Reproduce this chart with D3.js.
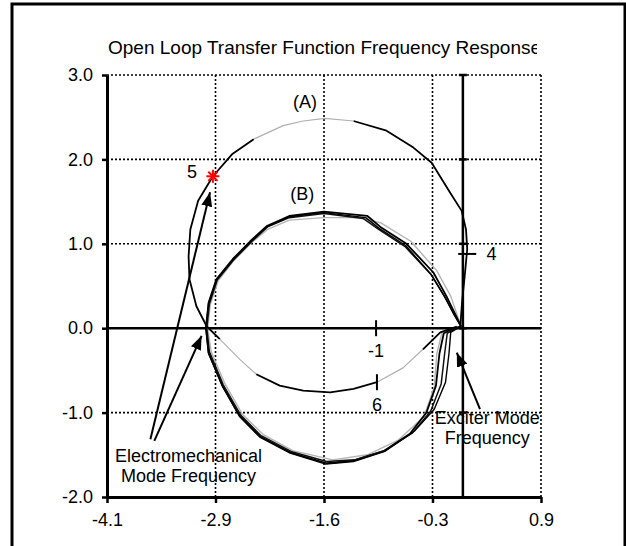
<!DOCTYPE html>
<html>
<head>
<meta charset="utf-8">
<script src="https://cdn.jsdelivr.net/npm/d3@7"></script>
<style>
  body { margin: 0; background: #fff; }
  text { font-family: "Liberation Sans", Arial, sans-serif; fill: #000; }
</style>
</head>
<body>
<div id="chart"></div>
<script>
const title = "Open Loop Transfer Function Frequency Response";

const xTicks = [-4.1, -2.85, -1.6, -0.35, 0.9];
const xTickLabels = ["-4.1", "-2.9", "-1.6", "-0.3", "0.9"];
const yTicks = [-2, -1, 0, 1, 2, 3];
const yTickLabels = ["-2.0", "-1.0", "0.0", "1.0", "2.0", "3.0"];

// curve (A), starting at the origin and going up the right side
const curveA = [
  [-0.03, 0.02], [-0.01, 0.3], [0.025, 0.66], [0.05, 0.94], [0.036, 1.17], [-0.014, 1.39],
  [-0.15, 1.61], [-0.36, 1.96], [-0.57, 2.14], [-0.88, 2.34], [-1.26, 2.455], [-1.59, 2.485],
  [-1.84, 2.455], [-2.07, 2.4], [-2.41, 2.24], [-2.66, 2.06], [-2.88, 1.8], [-3.05, 1.51],
  [-3.14, 1.17], [-3.16, 0.85], [-3.15, 0.58], [-3.07, 0.26], [-2.95, 0.02], [-2.8, -0.13],
  [-2.57, -0.37], [-2.38, -0.545], [-2.11, -0.68], [-1.84, -0.74], [-1.53, -0.76], [-1.26, -0.72],
  [-0.99, -0.64], [-0.69, -0.47], [-0.46, -0.25], [-0.26, -0.05], [-0.07, 0.02]
];

// curve (B): several nearly overlapping traces
const curveB1 = [
  [-0.02, 0.02], [-0.08, 0.15], [-0.19, 0.38], [-0.34, 0.66], [-0.65, 1.0], [-0.95, 1.2],
  [-1.1, 1.33], [-1.6, 1.38], [-2.0, 1.33], [-2.26, 1.21], [-2.45, 1.03], [-2.65, 0.82],
  [-2.84, 0.58], [-2.93, 0.3], [-2.96, 0.0], [-2.93, -0.29], [-2.77, -0.68], [-2.57, -1.04],
  [-2.34, -1.28], [-1.99, -1.47], [-1.57, -1.6], [-1.26, -1.57], [-0.92, -1.46], [-0.61, -1.25],
  [-0.42, -1.0], [-0.31, -0.68], [-0.27, -0.3], [-0.22, -0.06], [-0.1, 0.0], [-0.02, 0.02]
];
const curveB2 = [
  [-0.02, 0.02], [-0.09, 0.14], [-0.21, 0.37], [-0.37, 0.64], [-0.67, 0.97], [-0.97, 1.17],
  [-1.15, 1.3], [-1.6, 1.36], [-2.0, 1.31], [-2.25, 1.2], [-2.44, 1.02], [-2.64, 0.81],
  [-2.83, 0.57], [-2.92, 0.29], [-2.95, 0.0], [-2.92, -0.28], [-2.76, -0.67], [-2.56, -1.03],
  [-2.33, -1.27], [-1.98, -1.46], [-1.57, -1.58], [-1.25, -1.56], [-0.9, -1.45], [-0.58, -1.24],
  [-0.37, -0.98], [-0.25, -0.66], [-0.21, -0.3], [-0.18, -0.06], [-0.08, 0.0], [-0.02, 0.02]
];
const curveB3 = [
  [-0.02, 0.02], [-0.14, 0.38], [-0.3, 0.68], [-0.6, 1.03], [-0.95, 1.25], [-1.2, 1.31],
  [-1.6, 1.31], [-2.0, 1.28], [-2.25, 1.17], [-2.45, 1.0], [-2.64, 0.8], [-2.82, 0.56],
  [-2.91, 0.28], [-2.94, 0.0], [-2.9, -0.28], [-2.74, -0.66], [-2.54, -1.02], [-2.3, -1.26],
  [-1.96, -1.45], [-1.5, -1.56], [-1.1, -1.5], [-0.75, -1.33], [-0.45, -1.05], [-0.33, -0.7],
  [-0.3, -0.3], [-0.24, -0.05], [-0.1, 0.0], [-0.02, 0.02]
];
const curveB4 = [
  [-0.02, 0.02], [-0.1, 0.16], [-0.2, 0.36], [-0.36, 0.63], [-0.66, 0.98], [-0.96, 1.18],
  [-1.12, 1.31], [-1.6, 1.37], [-2.0, 1.32], [-2.26, 1.2], [-2.45, 1.02], [-2.65, 0.81],
  [-2.84, 0.57], [-2.93, 0.29], [-2.96, 0.0], [-2.93, -0.3], [-2.77, -0.69], [-2.57, -1.05],
  [-2.34, -1.29], [-1.99, -1.48], [-1.58, -1.61], [-1.26, -1.58], [-0.9, -1.46], [-0.56, -1.22],
  [-0.33, -0.96], [-0.2, -0.64], [-0.16, -0.3], [-0.14, -0.05], [-0.06, 0.0], [-0.02, 0.02]
];

const star5 = [-2.88, 1.8];

const markTicks = [
  { label: "4", at: [0.05, 0.88], dir: "h", text: [0.33, 0.88] },
  { label: "-1", at: [-1.0, 0.0], dir: "v", text: [-1.0, -0.27] },
  { label: "6", at: [-0.99, -0.64], dir: "v", text: [-0.99, -0.9] },
  { label: "5", at: null, dir: null, text: [-3.12, 1.86] }
];

const notes = [
  { lines: ["(A)"], at: [-1.82, 2.68] },
  { lines: ["(B)"], at: [-1.85, 1.6] },
  { lines: ["Electromechanical", "Mode Frequency"], at: [-3.16, -1.51] },
  { lines: ["Exciter Mode", "Frequency"], at: [0.28, -1.06] }
];

const arrows = [
  { from: [-3.6, -1.315], to: [-2.913, 1.61] },
  { from: [-3.555, -1.335], to: [-3.01, -0.09] },
  { from: [0.197, -0.96], to: [-0.07, -0.29] }
];

const W = 626, H = 546;
const svg = d3.select("#chart").append("svg")
  .attr("width", W).attr("height", H);

const x = d3.scaleLinear().domain([-4.1, 0.9]).range([107, 541]);
const y = d3.scaleLinear().domain([-2, 3]).range([497, 75]);

// outer frame (picture is cropped at the bottom)
svg.append("path")
  .attr("d", `M12,${H + 5}V4H625V${H + 5}`)
  .attr("fill", "none").attr("stroke", "#000").attr("stroke-width", 3);

svg.append("clipPath").attr("id", "titleClip")
  .append("rect").attr("x", 13).attr("y", 5).attr("width", 524).attr("height", 70);

svg.append("text")
  .attr("x", 108).attr("y", 54)
  .attr("clip-path", "url(#titleClip)")
  .style("font-size", "19px")
  .text(title);

// dotted gridlines
const grid = svg.append("g")
  .attr("stroke", "#000").attr("stroke-width", 1.6).attr("stroke-dasharray", "2,2");
grid.selectAll(".gy").data(yTicks.filter(d => d !== 0 && d !== -2)).join("line")
  .attr("x1", x(-4.1)).attr("x2", x(0.9))
  .attr("y1", d => y(d)).attr("y2", d => y(d));
grid.selectAll(".gx").data(xTicks.slice(1)).join("line")
  .attr("y1", y(3)).attr("y2", y(-2))
  .attr("x1", d => x(d)).attr("x2", d => x(d));

// axes
const axisLeft = svg.append("g").attr("transform", `translate(${x(-4.1)},0)`)
  .call(d3.axisLeft(y).tickValues(yTicks).tickFormat((d, i) => yTickLabels[i]).tickSizeInner(5).tickSizeOuter(0).tickPadding(9));
const axisBottom = svg.append("g").attr("transform", `translate(0,${y(-2)})`)
  .call(d3.axisBottom(x).tickValues(xTicks).tickFormat((d, i) => xTickLabels[i]).tickSizeInner(6).tickSizeOuter(0).tickPadding(10));
[axisLeft, axisBottom].forEach(a => {
  a.select(".domain").attr("stroke-width", 3);
  a.selectAll(".tick line").attr("stroke-width", 2.5);
  a.selectAll("text").style("font-size", "18px").attr("fill", "#000");
});

// zero lines
svg.append("line")
  .attr("x1", x(-4.1)).attr("x2", x(0.9)).attr("y1", y(0)).attr("y2", y(0))
  .attr("stroke", "#000").attr("stroke-width", 2.5);
svg.append("line")
  .attr("x1", x(0)).attr("x2", x(0)).attr("y1", y(3)).attr("y2", y(-2))
  .attr("stroke", "#000").attr("stroke-width", 2.5);
svg.selectAll(".zt").data(yTicks.filter(d => d > -2)).join("line")
  .attr("x1", x(0) - 4).attr("x2", x(0) + 4)
  .attr("y1", d => y(d)).attr("y2", d => y(d))
  .attr("stroke", "#000").attr("stroke-width", 2.5);

const line = d3.line().x(d => x(d[0])).y(d => y(d[1]));

// curve (B) traces
const bStyles = [
  { data: curveB3, color: "#b5b5b5", w: 1.4 },
  { data: curveB1, color: "#000", w: 1.8 },
  { data: curveB2, color: "#111", w: 1.5 },
  { data: curveB4, color: "#000", w: 1.4 }
];
bStyles.forEach(s => {
  svg.append("path").attr("d", line(s.data))
    .attr("fill", "none").attr("stroke", s.color).attr("stroke-width", s.w)
    .attr("stroke-linejoin", "round");
});

// curve (A): black, with a few lighter runs
const grayRuns = [[10, 14], [23, 25], [30, 32]];
let start = 0;
const runs = [];
grayRuns.forEach(([a, b]) => {
  runs.push({ pts: curveA.slice(start, a + 1), gray: false });
  runs.push({ pts: curveA.slice(a, b + 1), gray: true });
  start = b;
});
runs.push({ pts: curveA.slice(start), gray: false });
runs.forEach(r => {
  svg.append("path").attr("d", line(r.pts))
    .attr("fill", "none")
    .attr("stroke", r.gray ? "#b0b0b0" : "#000")
    .attr("stroke-width", r.gray ? 1.2 : 1.8)
    .attr("stroke-linejoin", "round");
});

// small marker ticks and their labels
markTicks.forEach(m => {
  if (m.at) {
    const cx = x(m.at[0]), cy = y(m.at[1]);
    svg.append("line")
      .attr("x1", m.dir === "h" ? cx - 9 : cx).attr("x2", m.dir === "h" ? cx + 9 : cx)
      .attr("y1", m.dir === "v" ? cy - 8 : cy).attr("y2", m.dir === "v" ? cy + 8 : cy)
      .attr("stroke", "#000").attr("stroke-width", 2);
  }
  svg.append("text")
    .attr("x", x(m.text[0])).attr("y", y(m.text[1]))
    .attr("dy", "0.36em").attr("text-anchor", "middle")
    .style("font-size", "18px")
    .text(m.label);
});

// red star at point 5
const sx = x(star5[0]), sy = y(star5[1]);
[0, 45, 90, 135].forEach(a => {
  const r = 6.5, t = a * Math.PI / 180;
  svg.append("line")
    .attr("x1", sx - r * Math.cos(t)).attr("y1", sy - r * Math.sin(t))
    .attr("x2", sx + r * Math.cos(t)).attr("y2", sy + r * Math.sin(t))
    .attr("stroke", "#f00").attr("stroke-width", 2);
});

// arrows
svg.append("defs").append("marker")
  .attr("id", "head").attr("viewBox", "0 0 14 11")
  .attr("refX", 14).attr("refY", 5.5)
  .attr("markerWidth", 14).attr("markerHeight", 11)
  .attr("markerUnits", "userSpaceOnUse").attr("orient", "auto")
  .append("path").attr("d", "M0,0L14,5.5L0,11Z").attr("fill", "#000");
arrows.forEach(a => {
  svg.append("line")
    .attr("x1", x(a.from[0])).attr("y1", y(a.from[1]))
    .attr("x2", x(a.to[0])).attr("y2", y(a.to[1]))
    .attr("stroke", "#000").attr("stroke-width", 2)
    .attr("marker-end", "url(#head)");
});

// text notes
notes.forEach(n => {
  const t = svg.append("text")
    .attr("x", x(n.at[0])).attr("y", y(n.at[1]))
    .attr("text-anchor", "middle")
    .style("font-size", "18px");
  n.lines.forEach((l, i) => {
    t.append("tspan").attr("x", x(n.at[0])).attr("dy", i === 0 ? "0.36em" : "1.12em").text(l);
  });
});
</script>
</body>
</html>
